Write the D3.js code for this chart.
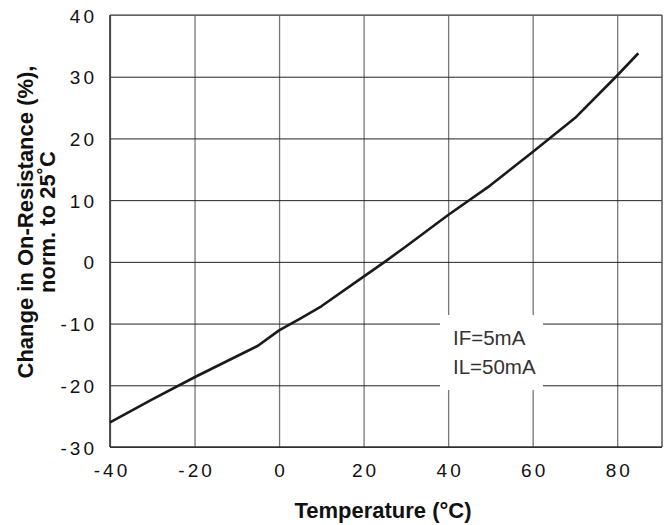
<!DOCTYPE html>
<html>
<head>
<meta charset="utf-8">
<script src="https://cdn.jsdelivr.net/npm/d3@7"></script>
<style>
  html, body { margin: 0; padding: 0; background: #fff; }
  svg { display: block; font-family: "Liberation Sans", Arial, sans-serif; }
</style>
</head>
<body>
<svg id="chart" width="669" height="525"></svg>
<script>
// ---- data ----
const temperature = [-40, -30, -20, -10, -5, 0, 5, 10, 20, 25, 30, 40, 50, 60, 70, 80, 85];
const resistanceChange = [-26, -22.3, -18.7, -15.3, -13.6, -11.1, -9.2, -7.2, -2.4, 0, 2.5, 7.6, 12.4, 17.8, 23.3, 30.2, 33.8];
const xTicks = [-40, -20, 0, 20, 40, 60, 80];
const yTicks = [-30, -20, -10, 0, 10, 20, 30, 40];
const xTitle = "Temperature (\u00B0C)";
const yTitle = ["Change in On-Resistance (%),", "norm. to 25\u02DAC"];
const notes = ["IF=5mA", "IL=50mA"];

// ---- layout ----
const L = 110, T = 15, R = 662, B = 447;
const svg = d3.select("#chart");
const x = d3.scaleLinear().domain([-40, 90.6]).range([L, R]);
const y = d3.scaleLinear().domain([-30, 40]).range([B, T]);
const W = R - L, H = B - T;

// vertical grid
const gx = svg.append("g").attr("transform", `translate(0,${B})`)
  .call(d3.axisBottom(x).tickValues(xTicks).tickSize(-H).tickFormat(""));
gx.select(".domain").remove();
gx.selectAll(".tick line").attr("stroke", "#777").attr("stroke-width", 1.3);

// horizontal grid
const gy = svg.append("g").attr("transform", `translate(${L},0)`)
  .call(d3.axisLeft(y).tickValues(yTicks).tickSize(-W).tickFormat(""));
gy.select(".domain").remove();
gy.selectAll(".tick line").attr("stroke", "#222").attr("stroke-width", 1);

// annotation box (white background breaking the grid)
svg.append("rect").attr("x", 440).attr("y", 315).attr("width", 103).attr("height", 75).attr("fill", "#fff");
svg.selectAll("text.note").data(notes).enter().append("text")
  .attr("class", "note")
  .attr("x", 453).attr("y", (d, i) => 345 + i * 29)
  .attr("font-size", 20.5).attr("fill", "#333").text(d => d);

// frame
svg.append("line").attr("x1", L).attr("x2", R).attr("y1", T).attr("y2", T).attr("stroke", "#777").attr("stroke-width", 1.5);
svg.append("line").attr("x1", R).attr("x2", R).attr("y1", T).attr("y2", B).attr("stroke", "#555").attr("stroke-width", 1.5);
svg.append("line").attr("x1", L).attr("x2", L).attr("y1", T).attr("y2", B).attr("stroke", "#444").attr("stroke-width", 1.8);
svg.append("line").attr("x1", L).attr("x2", R).attr("y1", B).attr("y2", B).attr("stroke", "#333").attr("stroke-width", 1.6);

// tick labels
const ls = 3;
const xl = svg.append("g").attr("transform", `translate(0,${B})`)
  .call(d3.axisBottom(x).tickValues(xTicks).tickSize(0).tickPadding(0).tickFormat(d => d));
xl.select(".domain").remove();
xl.selectAll(".tick text")
  .attr("y", 30).attr("dy", 0).attr("dx", ls / 2)
  .attr("font-size", 19).attr("letter-spacing", ls).attr("fill", "#111")
  .attr("font-family", "Liberation Sans, Arial, sans-serif");

const yl = svg.append("g").attr("transform", `translate(${L},0)`)
  .call(d3.axisLeft(y).tickValues(yTicks).tickSize(0).tickPadding(0).tickFormat(d => d));
yl.select(".domain").remove();
yl.selectAll(".tick text")
  .attr("x", -16 + ls).attr("dy", 7)
  .attr("font-size", 19).attr("letter-spacing", ls).attr("fill", "#111")
  .attr("font-family", "Liberation Sans, Arial, sans-serif");

// curve
const line = d3.line().x((d, i) => x(temperature[i])).y(d => y(d));
svg.append("path").datum(resistanceChange)
  .attr("d", line).attr("fill", "none").attr("stroke", "#1a1a1a")
  .attr("stroke-width", 2.6).attr("stroke-linejoin", "round");

// axis titles
svg.append("text").attr("x", 383).attr("y", 518).attr("text-anchor", "middle")
  .attr("font-size", 22).attr("font-weight", "bold").attr("fill", "#111").text(xTitle);

svg.append("text").attr("transform", "translate(33,222) rotate(-90)")
  .attr("text-anchor", "middle").attr("font-size", 22).attr("font-weight", "bold").attr("fill", "#111").text(yTitle[0]);
svg.append("text").attr("transform", "translate(55,222) rotate(-90)")
  .attr("text-anchor", "middle").attr("font-size", 22).attr("font-weight", "bold").attr("fill", "#111").text(yTitle[1]);
</script>
</body>
</html>
